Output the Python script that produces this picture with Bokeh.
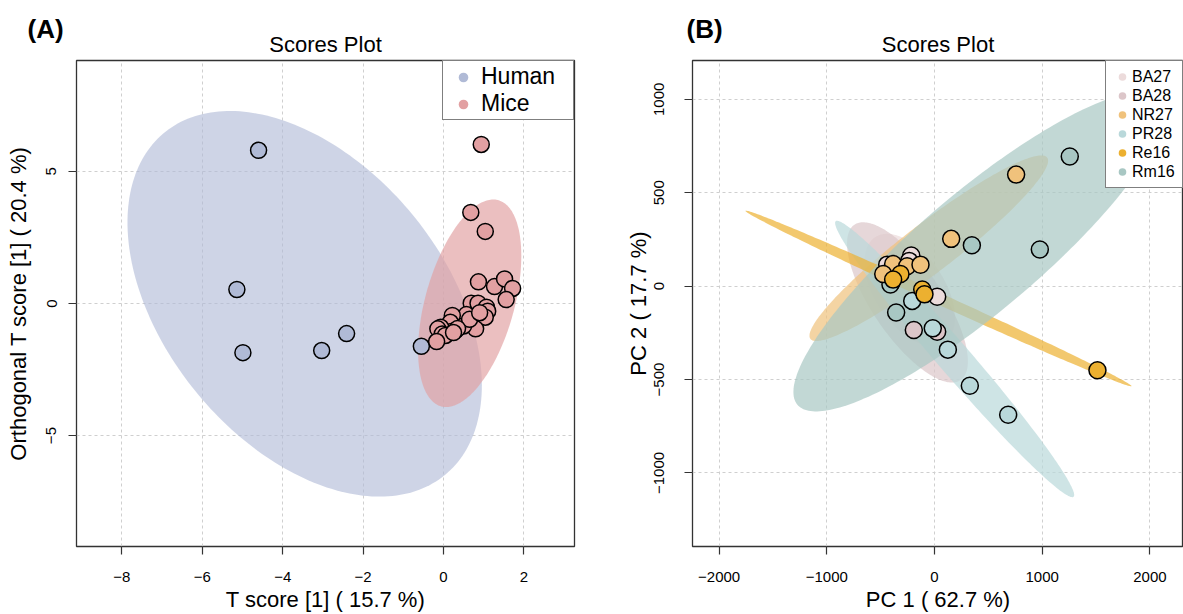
import numpy as np
from bokeh.plotting import figure
from bokeh.models import Range1d, FixedTicker, Legend, LegendItem, Title
from bokeh.layouts import row
from bokeh.embed import file_html
from bokeh.resources import INLINE

FONT = "Liberation Sans"

# ---------------- Panel A data (OPLS-DA scores) ----------------
human_x = [-4.60, -5.14, -4.99, -3.03, -2.41, -0.55]
human_y = [5.80, 0.53, -1.86, -1.78, -1.14, -1.62]
mice_x = [0.94, 0.68, 1.04, 0.87, 1.27, 1.52, 1.72, 1.56, 0.69, 0.86, 1.07, 1.10,
          1.04, 0.57, 0.80, 0.22, 0.17, 0.30, 0.22, -0.07, -0.14, -0.03, 0.05, -0.17,
          0.50, 0.65, 0.35, 0.90, 0.25]
mice_y = [6.02, 3.45, 2.73, 0.82, 0.64, 0.93, 0.57, 0.15, 0.01, 0.01, -0.14, -0.29,
          -0.52, -0.42, -0.96, -0.45, -0.71, -1.02, -1.05, -0.90, -0.96, -1.15, -1.21, -1.44,
          -0.85, -0.60, -0.95, -0.35, -1.10]
a_groups = ["Human", "Mice"]
a_colors = ["#b0bad6", "#e2a0a2"]
a_xticks = [-8, -6, -4, -2, 0, 2]
a_yticks = [-5, 0, 5]

# ---------------- Panel B data (PCA scores) ----------------
b_groups = ["BA27", "BA28", "NR27", "PR28", "Re16", "Rm16"]
b_colors = ["#ecdbdb", "#dcc6c9", "#f0c27c", "#b9d8da", "#ecb030", "#a8c7c3"]
ba27_x = [-216, 25, -235, -439]
ba27_y = [164, -57, 135, 115]
ba28_x = [-192, 25, -400]
ba28_y = [-235, -244, 20]
nr27_x = [758, 155, -384, -254, -130, -476]
nr27_y = [597, 253, 118, 106, 115, 65]
pr28_x = [684, 328, 124, -16, -207]
pr28_y = [-689, -533, -340, -226, -79]
re16_x = [1513, -316, -384, -114, -93]
re16_y = [-450, 65, 35, -18, -44]
rm16_x = [1256, 347, 978, -356, -409]
rm16_y = [694, 219, 196, -141, 9]
# 95% ellipses: centre, half x-extent, half y-extent, correlation
ell_cx = [-230, -251, -53, 187, 37, 413]
ell_cy = [-20, -87, 203, -390, -66, 185]
ell_hx = [420, 561, 1108, 1110, 1792, 1723]
ell_hy = [300, 429, 497, 740, 470, 856]
ell_r = [-0.5, -0.735, 0.943, -0.984, -0.9975, 0.878]
b_xticks = [-2000, -1000, 0, 1000, 2000]
b_yticks = [-1000, -500, 0, 500, 1000]

K95 = np.sqrt(5.991)


def ellipse_xy(cx, cy, hx, hy, r, n=240):
    t = np.linspace(0, 2 * np.pi, n)
    x = cx + hx * np.cos(t)
    y = cy + hy * (r * np.cos(t) + np.sqrt(1 - r * r) * np.sin(t))
    return x, y


def conf_ellipse(xs, ys):
    xs = np.asarray(xs, float)
    ys = np.asarray(ys, float)
    c = np.cov(xs, ys)
    sx, sy = np.sqrt(c[0, 0]), np.sqrt(c[1, 1])
    return ellipse_xy(xs.mean(), ys.mean(), K95 * sx, K95 * sy, c[0, 1] / (sx * sy))


def make_fig(width, x_range, y_range, letter, letter_offset, borders):
    lt = Title(text=letter, align="left", offset=letter_offset, standoff=-36,
               text_font=FONT, text_font_size="26px", text_font_style="bold",
               text_color="black")
    p = figure(width=width, height=614, output_backend="svg", toolbar_location=None,
               title=lt, x_range=x_range, y_range=y_range,
               min_border_left=borders[0], min_border_right=borders[1],
               min_border_top=borders[2], min_border_bottom=borders[3])
    p.add_layout(Title(text="Scores Plot", align="center", standoff=8,
                       text_font=FONT, text_font_size="22px", text_font_style="normal",
                       text_color="black"), "above")
    return p


def style(p, xticks, yticks, xlabel, ylabel, ystand, ylabstand):
    p.outline_line_color = "#333333"
    p.outline_line_width = 1.3
    p.xaxis.ticker = FixedTicker(ticks=xticks)
    p.yaxis.ticker = FixedTicker(ticks=yticks)
    for ax in (p.xaxis[0], p.yaxis[0]):
        ax.axis_line_color = None
        ax.major_tick_in = 0
        ax.major_tick_out = 8
        ax.major_tick_line_color = "#333333"
        ax.major_tick_line_width = 1.2
        ax.minor_tick_line_color = None
        ax.major_label_text_font = FONT
        ax.major_label_text_font_size = "15px"
        ax.major_label_text_color = "black"
        ax.axis_label_text_font = FONT
        ax.axis_label_text_font_size = "22px"
        ax.axis_label_text_font_style = "normal"
        ax.axis_label_text_color = "black"
    p.xaxis.axis_label = xlabel
    p.yaxis.axis_label = ylabel
    p.xaxis.major_label_standoff = 17
    p.xaxis.axis_label_standoff = 2
    p.yaxis.major_label_standoff = ystand
    p.yaxis.axis_label_standoff = ylabstand
    p.yaxis.major_label_orientation = "vertical"
    for g in (p.xgrid[0], p.ygrid[0]):
        g.grid_line_color = "#cfcfcf"
        g.grid_line_dash = "3 3"
        g.grid_line_width = 1


# ---------------- Panel A ----------------
pa = make_fig(600, Range1d(-9.13, 3.26), Range1d(-9.2, 9.2), "(A)", -49, (76, 26, 60, 68))
style(pa, a_xticks, a_yticks, "T score [1] ( 15.7 %)", "Orthogonal T score [1] ( 20.4 %)", 12, 13)

for (xs, ys), col, al in zip([(human_x, human_y), (mice_x, mice_y)], a_colors, [0.62, 0.68]):
    ex, ey = conf_ellipse(xs, ys)
    pa.patch(ex, ey, fill_color=col, fill_alpha=al, line_color=None)
for (xs, ys), col in zip([(human_x, human_y), (mice_x, mice_y)], a_colors):
    pa.scatter(xs, ys, size=16, fill_color=col, line_color="black", line_width=1.5)

a_items = []
for name, col in zip(a_groups, a_colors):
    r = pa.scatter(x=[np.nan], y=[np.nan], size=10, fill_color=col, line_color=None)
    a_items.append(LegendItem(label=name, renderers=[r]))
leg_a = Legend(items=a_items, location="top_right", margin=0, padding=2, spacing=0,
               glyph_width=36, glyph_height=24, label_height=24, label_width=90,
               label_standoff=-2,
               label_text_font=FONT, label_text_font_size="23px", label_text_color="black",
               border_line_color="black", border_line_width=1,
               background_fill_color="white", background_fill_alpha=1)
pa.add_layout(leg_a)

# ---------------- Panel B ----------------
pb = make_fig(583, Range1d(-2247, 2312), Range1d(-1394, 1208), "(B)", -6, (92, 0, 57, 66))
style(pb, b_xticks, b_yticks, "PC 1 ( 62.7 %)", "PC 2 ( 17.7 %)", 20, 1)

for i, col in enumerate(b_colors):
    ex, ey = ellipse_xy(ell_cx[i], ell_cy[i], ell_hx[i], ell_hy[i], ell_r[i])
    pb.patch(ex, ey, fill_color=col, fill_alpha=0.7, line_color=None)

pts = {"BA27": (ba27_x, ba27_y), "BA28": (ba28_x, ba28_y), "NR27": (nr27_x, nr27_y),
       "PR28": (pr28_x, pr28_y), "Re16": (re16_x, re16_y), "Rm16": (rm16_x, rm16_y)}
cmap = dict(zip(b_groups, b_colors))
for g in ["BA27", "BA28", "PR28", "Rm16", "NR27", "Re16"]:
    xs, ys = pts[g]
    pb.scatter(xs, ys, size=17, fill_color=cmap[g], line_color="black", line_width=1.5)

b_items = []
for name, col in zip(b_groups, b_colors):
    r = pb.scatter(x=[np.nan], y=[np.nan], size=10, fill_color=col, line_color=None)
    b_items.append(LegendItem(label=name, renderers=[r]))
leg_b = Legend(items=b_items, location="top_right", margin=0, padding=6, spacing=0,
               glyph_width=20, glyph_height=19, label_height=19, label_width=44,
               label_standoff=-4,
               label_text_font=FONT, label_text_font_size="16px", label_text_color="black",
               border_line_color="black", border_line_width=1,
               background_fill_color="white", background_fill_alpha=1)
pb.add_layout(leg_b)

layout = row(pa, pb)
open("out.html", "w").write(file_html(layout, INLINE))
